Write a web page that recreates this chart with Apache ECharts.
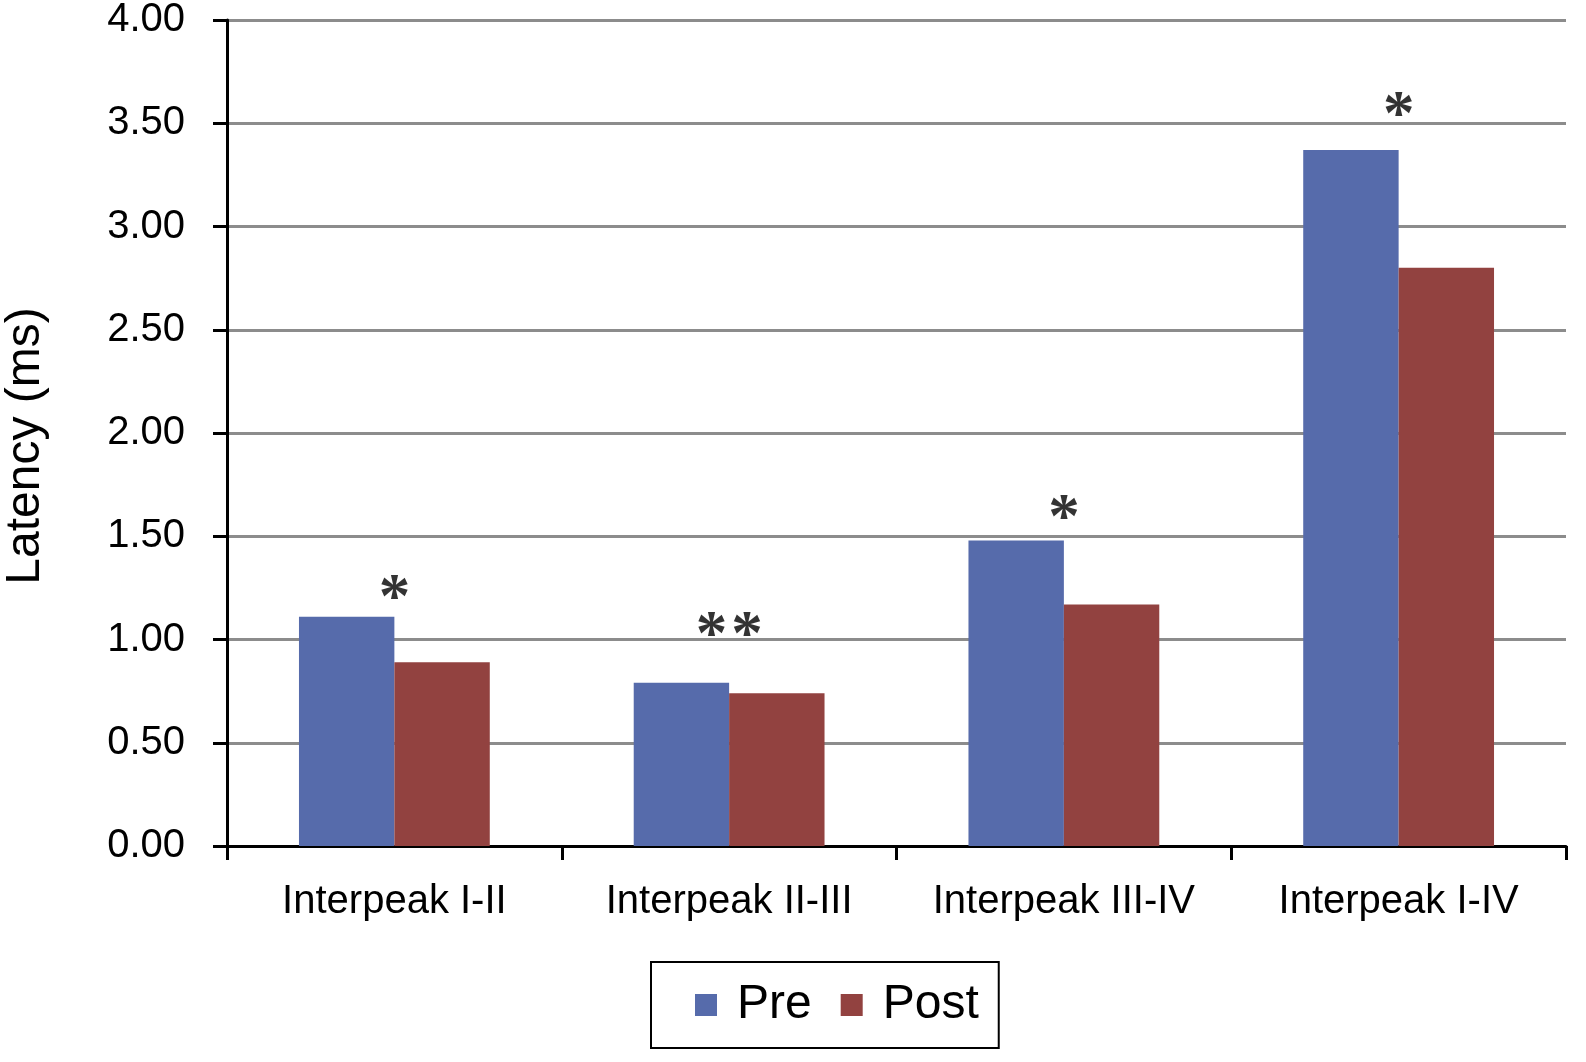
<!DOCTYPE html>
<html><head><meta charset="utf-8">
<script src="https://cdn.jsdelivr.net/npm/echarts@6/dist/echarts.min.js"></script>
<style>html,body{margin:0;padding:0;background:#fff;overflow:hidden}#c{width:1586px;height:1062px}</style>
</head><body><div id="c"></div>
<script>
const categories = ['Interpeak I-II', 'Interpeak II-III', 'Interpeak III-IV', 'Interpeak I-IV'];
const preValues = [1.11, 0.79, 1.48, 3.37];
const postValues = [0.89, 0.74, 1.17, 2.80];
const sigMarks = ['*', '**', '*', '*'];
const sigLevels = [1.24, 1.06, 1.63, 3.58];

const chart = echarts.init(document.getElementById('c'));
const font = 'Liberation Sans, Arial, sans-serif';
chart.setOption({
  animation: false,
  grid: {left: 227, right: 20, top: 20, bottom: 216, outerBoundsMode: 'none', containLabel: false},
  legend: {
    data: ['Pre', 'Post'], top: 962, left: 651,
    icon: 'rect', itemWidth: 22, itemHeight: 22, itemGap: 29,
    borderColor: '#000', borderWidth: 2, padding: [19, 20, 19, 44],
    formatter: n => '{t|' + n + '}',
    textStyle: {fontSize: 48, fontFamily: font, color: '#000',
      rich: {t: {fontSize: 48, fontFamily: font, color: '#000', padding: [0, 0, 0, 15]}}}
  },
  xAxis: {
    type: 'category', data: categories,
    axisLine: {lineStyle: {color: '#000', width: 3}},
    axisTick: {show: true, interval: 0, length: 14, lineStyle: {color: '#000', width: 3}},
    axisLabel: {interval: 0, fontSize: 40, fontFamily: font, color: '#000', margin: 36}
  },
  yAxis: {
    type: 'value', min: 0, max: 4, interval: 0.5,
    name: 'Latency (ms)', nameLocation: 'middle', nameGap: 177, nameRotate: 90,
    nameTextStyle: {fontSize: 48, fontFamily: font, color: '#000', padding: [0, 26, 0, 0]},
    axisLine: {show: true, lineStyle: {color: '#000', width: 3}},
    axisTick: {show: true, length: 14, lineStyle: {color: '#000', width: 3}},
    axisLabel: {fontSize: 40, fontFamily: font, color: '#000', margin: 42,
      formatter: v => v.toFixed(2)},
    splitLine: {lineStyle: {color: '#8c8c8c', width: 3}}
  },
  series: [
    {name: 'Pre', type: 'bar', data: preValues, barGap: '0%', barCategoryGap: '43%',
     itemStyle: {color: '#566BAB'}},
    {name: 'Post', type: 'bar', data: postValues, barGap: '0%', barCategoryGap: '43%',
     itemStyle: {color: '#924240'}},
    {name: 'sig', type: 'scatter', symbol: 'circle', symbolSize: 2,
     itemStyle: {color: 'rgba(0,0,0,0)'},
     data: sigLevels.map((v, i) => [i, v]),
     label: {show: true, position: 'inside', offset: [0, 11],
       formatter: p => sigMarks[p.dataIndex].split('').map(c => '{s|' + c + '}').join(''),
       rich: {s: {fontSize: 63, fontWeight: 'bold', fontFamily: 'Liberation Serif, serif',
         color: '#000', padding: [0, 2, 0, 2]}}},
     silent: true, z: 5}
  ]
});
</script></body></html>
